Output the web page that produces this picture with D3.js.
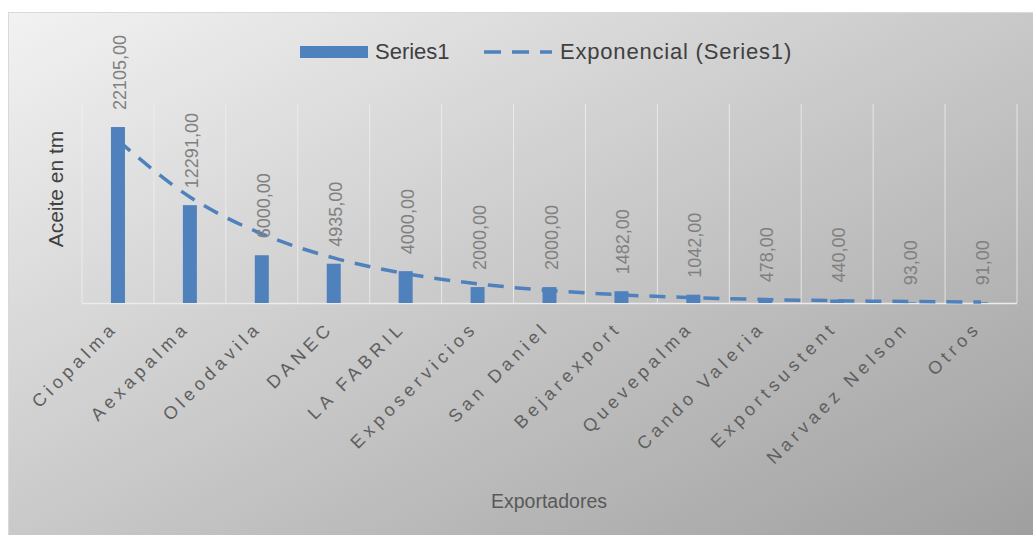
<!DOCTYPE html>
<html>
<head>
<meta charset="utf-8">
<script src="https://cdn.jsdelivr.net/npm/d3@7"></script>
<style>
  html, body { margin: 0; padding: 0; background: #fff; }
  svg { display: block; font-family: "Liberation Sans", Arial, sans-serif; }
</style>
</head>
<body>
<svg id="chart" width="1033" height="535"></svg>
<script>
// Data
var exportadores = ["Ciopalma", "Aexapalma", "Oleodavila", "DANEC", "LA FABRIL", "Exposervicios",
    "San Daniel", "Bejarexport", "Quevepalma", "Cando Valeria", "Exportsustent", "Narvaez Nelson", "Otros"];
var aceite = [22105, 12291, 6000, 4935, 4000, 2000, 2000, 1482, 1042, 478, 440, 93, 91];
var yDomain = [0, 25000];
var seriesName = "Series1";
var trendName = "Exponencial (Series1)";
var yTitle = "Aceite en tm";
var xTitle = "Exportadores";

// exponential trendline (least squares on ln y), like Excel
var n = aceite.length;
var xs = d3.range(1, n + 1);
var lny = aceite.map(function(v) { return Math.log(v); });
var mx = d3.mean(xs), my = d3.mean(lny);
var sxy = d3.sum(xs, function(x, i) { return (x - mx) * (lny[i] - my); });
var sxx = d3.sum(xs, function(x) { return (x - mx) * (x - mx); });
var b = sxy / sxx;
var a = Math.exp(my - b * mx);
var trend = xs.map(function(x) { return a * Math.exp(b * x); });

// Chart config
var margin = {top: 104, left: 82, right: 16, bottom: 232};
var W = 1033, H = 535;
var width = W - margin.left - margin.right,
    height = H - margin.top - margin.bottom;

var svg = d3.select("#chart");

var defs = svg.append("defs");
var grad = defs.append("linearGradient")
    .attr("id", "bg").attr("x1", "0%").attr("y1", "0%").attr("x2", "100%").attr("y2", "100%");
grad.append("stop").attr("offset", "0%").attr("stop-color", "#f2f2f2");
grad.append("stop").attr("offset", "100%").attr("stop-color", "#9e9e9e");

svg.append("rect")
    .attr("x", 8.5).attr("y", 12.5)
    .attr("width", W).attr("height", H)
    .attr("fill", "url(#bg)")
    .attr("stroke", "#d9d9d9");

var g = svg.append("g")
    .attr("transform", "translate(" + margin.left + "," + margin.top + ")");

var xScale = d3.scaleBand().domain(exportadores).range([0, width]);
var yScale = d3.scaleLinear().domain(yDomain).range([height, 0]);

// vertical gridlines at category boundaries
var bounds = exportadores.map(function(d) { return xScale(d); }).concat([width]);
g.selectAll(".xgrid").data(bounds).enter().append("line")
    .attr("class", "xgrid")
    .attr("x1", function(d) { return d; }).attr("x2", function(d) { return d; })
    .attr("y1", 0).attr("y2", height)
    .attr("stroke", "#f2f2f2").attr("stroke-opacity", 0.75).attr("stroke-width", 1);

// x axis line
g.append("line")
    .attr("x1", 0).attr("x2", width)
    .attr("y1", height + 0.5).attr("y2", height + 0.5)
    .attr("stroke", "#ececec").attr("stroke-width", 1.5);

// bars
var barW = 14;
g.selectAll(".bar").data(aceite).enter().append("rect")
    .attr("class", "bar")
    .attr("x", function(d, i) { return xScale(exportadores[i]) + xScale.bandwidth() / 2 - barW / 2; })
    .attr("y", function(d) { return yScale(d); })
    .attr("width", barW)
    .attr("height", function(d) { return height - yScale(d); })
    .attr("fill", "#4f81bd");

// trendline
var line = d3.line()
    .x(function(d, i) { return xScale(exportadores[i]) + xScale.bandwidth() / 2; })
    .y(function(d) { return yScale(d); })
    .curve(d3.curveMonotoneX);

g.append("path")
    .datum(trend)
    .attr("d", line)
    .attr("fill", "none")
    .attr("stroke", "#4f81bd")
    .attr("stroke-width", 3.5)
    .attr("stroke-dasharray", "16,11");

// data labels
g.selectAll(".lbl").data(aceite).enter().append("text")
    .attr("class", "lbl")
    .attr("transform", function(d, i) {
        var cx = xScale(exportadores[i]) + xScale.bandwidth() / 2 + 2;
        return "translate(" + cx + "," + (yScale(d) - 17) + ") rotate(-90)";
    })
    .attr("dominant-baseline", "central")
    .attr("font-size", "18px")
    .attr("fill", "#808080")
    .text(function(d) { return d3.format(".2f")(d).replace(".", ","); });

// x tick labels
g.selectAll(".xlbl").data(exportadores).enter().append("text")
    .attr("class", "xlbl")
    .attr("transform", function(d) {
        var cx = xScale(d) + xScale.bandwidth() / 2 + 1;
        return "translate(" + cx + "," + (height + 26) + ") rotate(-45)";
    })
    .attr("text-anchor", "end")
    .attr("font-size", "18px")
    .attr("letter-spacing", "4.6px")
    .attr("fill", "#5f5f5f")
    .text(function(d) { return d; });

// axis titles
svg.append("text")
    .attr("transform", "translate(63,189) rotate(-90)")
    .attr("text-anchor", "middle")
    .attr("font-size", "21px")
    .attr("fill", "#404040")
    .text(yTitle);

svg.append("text")
    .attr("x", 549).attr("y", 508)
    .attr("text-anchor", "middle")
    .attr("font-size", "19.5px")
    .attr("fill", "#595959")
    .text(xTitle);

// legend
var lg = svg.append("g");
lg.append("rect")
    .attr("x", 300).attr("y", 46).attr("width", 68).attr("height", 12)
    .attr("fill", "#4f81bd");
lg.append("text")
    .attr("x", 375).attr("y", 59)
    .attr("font-size", "22px")
    .attr("fill", "#404040")
    .text(seriesName);
lg.append("line")
    .attr("x1", 484).attr("x2", 552).attr("y1", 52).attr("y2", 52)
    .attr("stroke", "#4f81bd").attr("stroke-width", 3.5)
    .attr("stroke-dasharray", "17,11");
lg.append("text")
    .attr("x", 560).attr("y", 59)
    .attr("font-size", "22px")
    .attr("letter-spacing", "0.8px")
    .attr("fill", "#404040")
    .text(trendName);
</script>
</body>
</html>
